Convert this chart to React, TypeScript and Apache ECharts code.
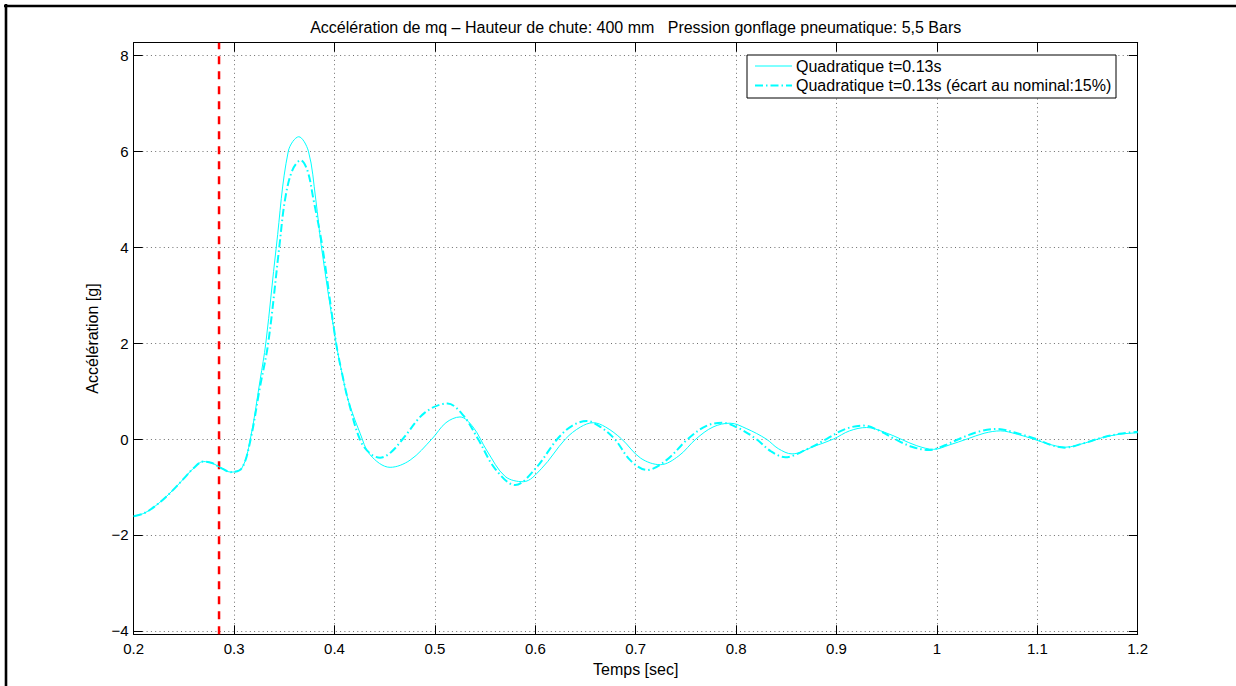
import React, { useEffect, useRef } from "react";
import * as echarts from "echarts";

// ---------- data ----------
const titleText =
  "Accélération de mq – Hauteur de chute: 400 mm   Pression gonflage pneumatique: 5,5 Bars";
const xName = "Temps [sec]";
const yName = "Accélération [g]";
const legendNames = [
  "Quadratique t=0.13s",
  "Quadratique t=0.13s (écart au nominal:15%)",
];

const xMin = 0.2;
const xMax = 1.2;
const xStep = 0.1;
const yMin = -4.07;
const yMax = 8.26;

const redLineX = 0.285;

const solidT = [
  0.2, 0.21, 0.218, 0.226, 0.235, 0.243, 0.251, 0.259, 0.2694, 0.278, 0.286,
  0.2967, 0.3076, 0.316, 0.3259, 0.3316, 0.342, 0.354, 0.3644, 0.374, 0.3813,
  0.387, 0.4016, 0.4089, 0.4136, 0.4255, 0.4355, 0.4554, 0.4753, 0.497, 0.511,
  0.525, 0.538, 0.552, 0.57, 0.588, 0.606, 0.63, 0.645, 0.6577, 0.67, 0.686,
  0.705, 0.7245, 0.743, 0.76, 0.777, 0.794, 0.81, 0.83, 0.842, 0.8557, 0.878,
  0.897, 0.913, 0.93, 0.948, 0.964, 0.98, 0.9968, 1.013, 1.03, 1.047, 1.0633,
  1.08, 1.096, 1.112, 1.128, 1.148, 1.165, 1.182, 1.2,
];
const solidA = [
  -1.61, -1.55, -1.45, -1.32, -1.15, -0.98, -0.8, -0.62, -0.47, -0.5, -0.59,
  -0.69, -0.61, -0.02, 1.23, 2.0, 4.0, 6.0, 6.3, 6.0, 5.0, 4.0, 2.0, 1.23, 0.81,
  0.12, -0.33, -0.59, -0.44, 0.0, 0.34, 0.46, 0.25, -0.25, -0.78, -0.89, -0.62,
  0.0, 0.25, 0.34, 0.25, 0.0, -0.4, -0.535, -0.35, 0.0, 0.25, 0.33, 0.22, 0.0,
  -0.2, -0.31, -0.15, 0.0, 0.17, 0.24, 0.14, 0.0, -0.14, -0.215, -0.12, 0.0,
  0.12, 0.17, 0.1, 0.0, -0.11, -0.17, -0.08, 0.03, 0.1, 0.13,
];

const dashT = [
  0.2, 0.21, 0.218, 0.226, 0.235, 0.243, 0.251, 0.259, 0.2694, 0.278, 0.286,
  0.2967, 0.3076, 0.316, 0.3259, 0.334, 0.345, 0.3508, 0.358, 0.3663, 0.373,
  0.379, 0.388, 0.4016, 0.4089, 0.4136, 0.4255, 0.4354, 0.4454, 0.456, 0.468,
  0.49, 0.5126, 0.528, 0.543, 0.56, 0.58, 0.6, 0.622, 0.637, 0.6514, 0.665,
  0.679, 0.695, 0.711, 0.73, 0.752, 0.77, 0.786, 0.803, 0.82, 0.835, 0.849,
  0.87, 0.89, 0.909, 0.927, 0.943, 0.958, 0.975, 0.992, 1.008, 1.022, 1.041,
  1.06, 1.08, 1.099, 1.113, 1.127, 1.146, 1.163, 1.182, 1.2,
];
const dashA = [
  -1.61, -1.55, -1.45, -1.32, -1.15, -0.98, -0.8, -0.62, -0.47, -0.5, -0.59,
  -0.69, -0.61, -0.05, 1.1, 2.0, 4.0, 5.0, 5.6, 5.81, 5.6, 5.0, 4.0, 2.0, 1.23,
  0.81, -0.02, -0.3, -0.39, -0.28, 0.0, 0.55, 0.74, 0.5, 0.0, -0.62, -0.96,
  -0.62, 0.0, 0.28, 0.375, 0.25, 0.0, -0.45, -0.645, -0.45, 0.0, 0.27, 0.34,
  0.22, 0.0, -0.26, -0.38, -0.22, 0.0, 0.21, 0.28, 0.17, 0.0, -0.16, -0.23,
  -0.13, 0.0, 0.15, 0.21, 0.12, 0.0, -0.12, -0.18, -0.09, 0.02, 0.11, 0.15,
];

// ---------- layout / style ----------
const W = 1236;
const H = 686;
const FONT = '"Liberation Sans", Arial, Helvetica, sans-serif';
const CYAN = "#00ffff";
const GRID = { left: 133.7, top: 42.7, right: 98.3, bottom: 51.7 };

const fmtY = (v: number) => {
  const r = Math.round(v * 100) / 100;
  return r < 0 ? "\u2212" + Math.abs(r) : String(r);
};
const fmtX = (v: number) => String(Math.round(v * 10) / 10);

export default function App() {
  const ref = useRef<HTMLDivElement>(null);

  useEffect(() => {
    if (!ref.current) return;
    const chart = echarts.init(ref.current, undefined, { renderer: "svg" });

    const solidData = solidT.map((t, i) => [t, solidA[i]]);
    const dashData = dashT.map((t, i) => [t, dashA[i]]);
    const redData = [
      [redLineX, yMin],
      [redLineX, yMax],
    ];

    const axisLine = {
      show: true,
      onZero: false,
      lineStyle: { color: "#000", width: 1 },
    };
    const axisTick = {
      show: true,
      inside: true,
      length: 9,
      lineStyle: { color: "#000", width: 1 },
    };
    const splitLine = {
      show: true,
      lineStyle: { color: "#6e6e6e", width: 1, type: [1, 3.3] },
    };

    const lx = 747;
    const ly = 55;
    const lw = 369;
    const lh = 43;

    chart.setOption({
      animation: false,
      backgroundColor: "#ffffff",
      grid: { ...GRID, containLabel: false },
      xAxis: [
        {
          type: "value",
          min: xMin,
          max: xMax,
          interval: xStep,
          position: "bottom",
          axisLine,
          axisTick,
          axisLabel: {
            color: "#000",
            fontSize: 15,
            fontFamily: FONT,
            margin: 7,
            formatter: fmtX,
          },
          splitLine,
          name: xName,
          nameLocation: "middle",
          nameGap: 21,
          nameTextStyle: { color: "#000", fontSize: 16, fontFamily: FONT },
        },
        {
          type: "value",
          min: xMin,
          max: xMax,
          interval: xStep,
          position: "top",
          axisLine,
          axisTick,
          axisLabel: { show: false },
          splitLine: { show: false },
        },
      ],
      yAxis: [
        {
          type: "value",
          min: yMin,
          max: yMax,
          splitNumber: 6,
          position: "left",
          axisLine,
          axisTick,
          axisLabel: {
            color: "#000",
            fontSize: 15,
            fontFamily: FONT,
            margin: 5,
            showMinLabel: false,
            showMaxLabel: false,
            formatter: fmtY,
          },
          splitLine,
          name: yName,
          nameLocation: "middle",
          nameGap: 28,
          nameTextStyle: { color: "#000", fontSize: 16, fontFamily: FONT },
        },
        {
          type: "value",
          min: yMin,
          max: yMax,
          splitNumber: 6,
          position: "right",
          axisLine,
          axisTick,
          axisLabel: { show: false },
          splitLine: { show: false },
        },
      ],
      series: [
        {
          type: "line",
          name: "marker",
          xAxisIndex: 0,
          yAxisIndex: 0,
          data: redData,
          symbol: "none",
          lineStyle: { color: "#ff0000", width: 2.5, type: [8, 7] },
          z: 2,
        },
        {
          type: "line",
          name: legendNames[0],
          xAxisIndex: 0,
          yAxisIndex: 0,
          data: solidData,
          smooth: 0.35,
          symbol: "none",
          lineStyle: { color: CYAN, width: 1 },
          z: 3,
        },
        {
          type: "line",
          name: legendNames[1],
          xAxisIndex: 0,
          yAxisIndex: 0,
          data: dashData,
          smooth: 0.35,
          symbol: "none",
          lineStyle: { color: CYAN, width: 2, type: [8, 3, 1.5, 3] },
          z: 3,
        },
      ],
      graphic: [
        {
          type: "line",
          z: 100,
          shape: { x1: 4, y1: 6, x2: W, y2: 6 },
          style: { stroke: "#000", lineWidth: 2.6 },
        },
        {
          type: "line",
          z: 100,
          shape: { x1: 6, y1: 4, x2: 6, y2: H },
          style: { stroke: "#000", lineWidth: 2.6 },
        },
        {
          type: "text",
          z: 100,
          x: (GRID.left + (W - GRID.right)) / 2,
          y: 27,
          style: {
            text: titleText,
            font: `16px ${FONT}`,
            fill: "#000",
            textAlign: "center",
            textVerticalAlign: "middle",
          },
        },
        {
          type: "rect",
          z: 100,
          shape: { x: lx, y: ly, width: lw, height: lh },
          style: { fill: "#fff", stroke: "#000", lineWidth: 1 },
        },
        {
          type: "line",
          z: 101,
          shape: { x1: lx + 8, y1: ly + 11, x2: lx + 45, y2: ly + 11 },
          style: { stroke: CYAN, lineWidth: 1 },
        },
        {
          type: "line",
          z: 101,
          shape: { x1: lx + 8, y1: ly + 30.5, x2: lx + 45, y2: ly + 30.5 },
          style: { stroke: CYAN, lineWidth: 2, lineDash: [8, 3, 1.5, 3] },
        },
        {
          type: "text",
          z: 101,
          x: lx + 49,
          y: ly + 11,
          style: {
            text: legendNames[0],
            font: `16px ${FONT}`,
            fill: "#000",
            textVerticalAlign: "middle",
          },
        },
        {
          type: "text",
          z: 101,
          x: lx + 49,
          y: ly + 30.5,
          style: {
            text: legendNames[1],
            font: `16px ${FONT}`,
            fill: "#000",
            textVerticalAlign: "middle",
          },
        },
      ],
    });

    return () => chart.dispose();
  }, []);

  return (
    <div
      ref={ref}
      style={{
        position: "absolute",
        left: 0,
        top: 0,
        width: W,
        height: H,
        background: "#fff",
      }}
    />
  );
}
